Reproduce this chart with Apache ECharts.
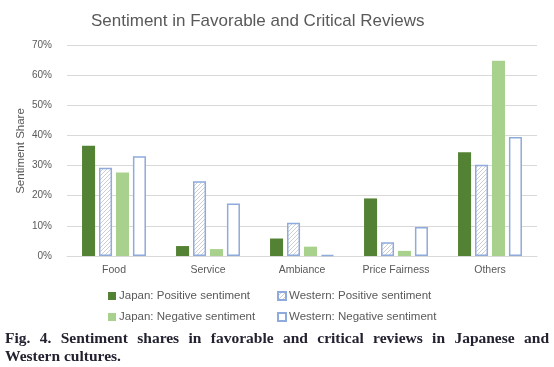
<!DOCTYPE html>
<html><head><meta charset="utf-8">
<script src="https://cdn.jsdelivr.net/npm/echarts@6/dist/echarts.min.js"></script>
<style>html,body{margin:0;padding:0;background:#fff;}#c{width:554px;height:367px;}</style>
</head><body><div id="c"></div>
<script>
const categories = ['Food', 'Service', 'Ambiance', 'Price Fairness', 'Others'];
const japanPositive = [36.6, 3.3, 5.8, 19.1, 34.4];
const westernPositive = [29.3, 24.8, 11.0, 4.6, 30.3];
const japanNegative = [27.7, 2.3, 3.1, 1.7, 64.8];
const westernNegative = [33.1, 17.4, 0.3, 9.6, 39.5];
const yTicks = [0, 10, 20, 30, 40, 50, 60, 70];
const seriesNames = ['Japan: Positive sentiment', 'Western: Positive sentiment', 'Japan: Negative sentiment', 'Western: Negative sentiment'];
const titleText = 'Sentiment in Favorable and Critical Reviews';
const yAxisName = 'Sentiment Share';
const captionLine1 = ['Fig.', '4.', 'Sentiment', 'shares', 'in', 'favorable', 'and', 'critical', 'reviews', 'in', 'Japanese', 'and'];
const captionLine2 = 'Western cultures.';

const FONT = '"Liberation Sans", Arial, sans-serif';
const SERIF = '"Liberation Serif", "DejaVu Serif", serif';

// hatch pattern
const pc = document.createElement('canvas');
pc.width = 4; pc.height = 4;
const px = pc.getContext('2d');
px.fillStyle = '#ffffff'; px.fillRect(0,0,4,4);
px.strokeStyle = '#cfcfcf'; px.lineWidth = 1;
px.beginPath(); px.moveTo(0,4); px.lineTo(4,0); px.moveTo(-1,1); px.lineTo(1,-1); px.moveTo(3,5); px.lineTo(5,3); px.stroke();
const hatch = {image: pc, repeat: 'repeat'};

const chart = echarts.init(document.getElementById('c'), null, {renderer: 'canvas'});

// justified caption
const mc = document.createElement('canvas').getContext('2d');
const capSize = 15.5;
function wfont(i){ return 'bold ' + capSize + 'px ' + SERIF; }
const capLeft = 5, capRight = 549;
let widths = captionLine1.map((w,i)=>{ mc.font = wfont(i); return mc.measureText(w).width; });
const total = widths.reduce((a,b)=>a+b,0);
const gap = (capRight - capLeft - total) / (captionLine1.length - 1);
const capEls = [];
let cx = capLeft;
captionLine1.forEach((w,i)=>{
  capEls.push({type:'text', left: cx, top: 331, style:{text: w, font: wfont(i), fill: '#222230'}});
  cx += widths[i] + gap;
});
capEls.push({type:'text', left: capLeft, top: 349, style:{text: captionLine2, font: 'bold ' + capSize + 'px ' + SERIF, fill: '#222230'}});
// y-axis title
capEls.push({type:'text', x: 21, y: 151, rotation: Math.PI / 2,
  style:{text: yAxisName, font: '11.5px ' + FONT, fill: '#595959', align: 'center', verticalAlign: 'middle'}});

const colors = ['#548235', hatch, '#a9d18e', '#ffffff'];
const borders = ['#548235', '#8faadc', '#a9d18e', '#8faadc'];
const data = [japanPositive, westernPositive, japanNegative, westernNegative];

chart.setOption({
  animation: false,
  title: {text: titleText, left: 86, top: 8, textStyle: {fontFamily: FONT, fontSize: 17, fontWeight: 'normal', color: '#595959'}},
  grid: {left: 67, right: 17, top: 45, bottom: 111},
  legend: [
    {data: [seriesNames[0], seriesNames[2]], orient: 'vertical', left: 103, top: 285, itemWidth: 8, itemHeight: 8, itemGap: 9, icon: 'rect',
     textStyle: {fontFamily: FONT, fontSize: 11.5, color: '#595959', padding: [0,0,0,-2]}},
    {data: [seriesNames[1], seriesNames[3]], orient: 'vertical', left: 272, top: 285, itemWidth: 8, itemHeight: 8, itemGap: 9, icon: 'rect',
     textStyle: {fontFamily: FONT, fontSize: 11.5, color: '#595959', padding: [0,0,0,-2]}}
  ],
  xAxis: {type: 'category', data: categories, axisLine: {lineStyle: {color: '#d9d9d9'}}, axisTick: {show: false},
    axisLabel: {fontFamily: FONT, fontSize: 10.5, color: '#595959', margin: 9}},
  yAxis: {type: 'value', min: yTicks[0], max: yTicks[yTicks.length-1], interval: 10,
    axisLabel: {formatter: '{value}%', fontFamily: FONT, fontSize: 10, color: '#595959', margin: 15},
    splitLine: {lineStyle: {color: '#d9d9d9'}}},
  series: data.map((d,i)=>({
    name: seriesNames[i], type: 'bar', data: d, barGap: '30%', barCategoryGap: '32%',
    itemStyle: {color: colors[i], borderColor: borders[i], borderWidth: (i % 2 === 1) ? 1.5 : 0}
  })),
  graphic: capEls
});
</script></body></html>
